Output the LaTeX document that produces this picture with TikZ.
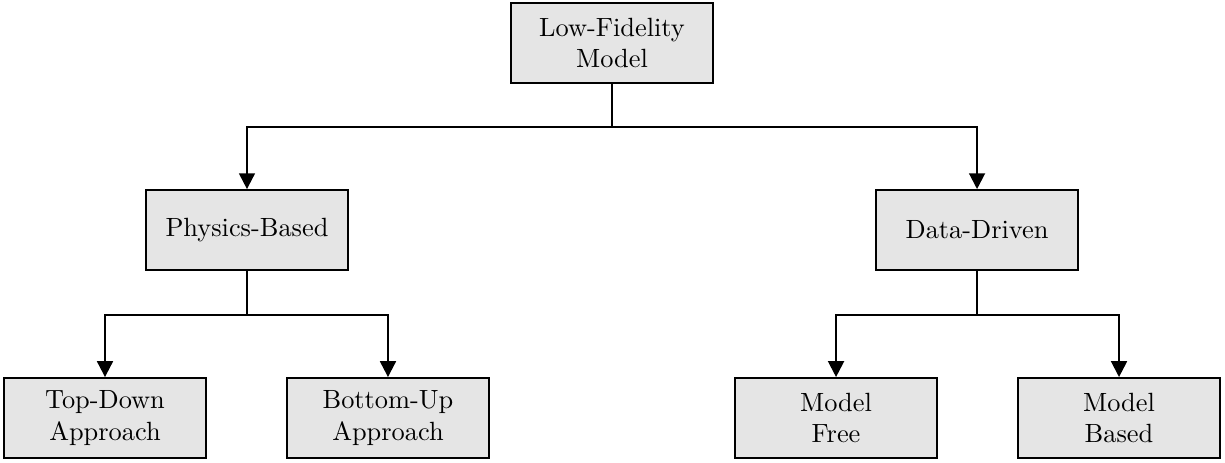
\documentclass[tikz,border=0pt]{standalone}
\usepackage{amsmath,amssymb}
\usepackage{tikz}
\usetikzlibrary{arrows.meta}

\tikzset{
  block/.style={draw, semithick, fill=gray!20, minimum width=2.69cm, minimum height=1.07cm, align=center, inner sep=2pt},
}

\begin{document}
\begin{tikzpicture}[>={Triangle[length=6pt,width=6pt]}]
            \useasboundingbox (0,0) rectangle (16.333,-6.16);
            \node[block] (root) at (8.16,-0.573) {Low-Fidelity\\Model};
            \node[block] (phys) at (3.293,-3.067) {Physics-Based};
            \node[block] (data) at (13.027,-3.067) {Data-Driven};
            \node[block] (topdown) at (1.4,-5.573) {Top-Down\\Approach};
            \node[block] (bottomup) at (5.173,-5.573) {Bottom-Up\\Approach};
            \node[block] (mfree) at (11.147,-5.573) {Model\\Free};
            \node[block] (mbased) at (14.92,-5.573) {Model\\Based};
            \draw [thick,->] (root.south) -- ++(0,-0.57) -| (phys.north);
            \draw [thick,->] (root.south) -- ++(0,-0.57) -| (data.north);
            \draw [thick,->] (phys.south) -- ++(0,-0.583) -| (topdown.north);
            \draw [thick,->] (phys.south) -- ++(0,-0.583) -| (bottomup.north);
            \draw [thick,->] (data.south) -- ++(0,-0.583) -| (mfree.north);
            \draw [thick,->] (data.south) -- ++(0,-0.583) -| (mbased.north);
        \end{tikzpicture}
\end{document}
